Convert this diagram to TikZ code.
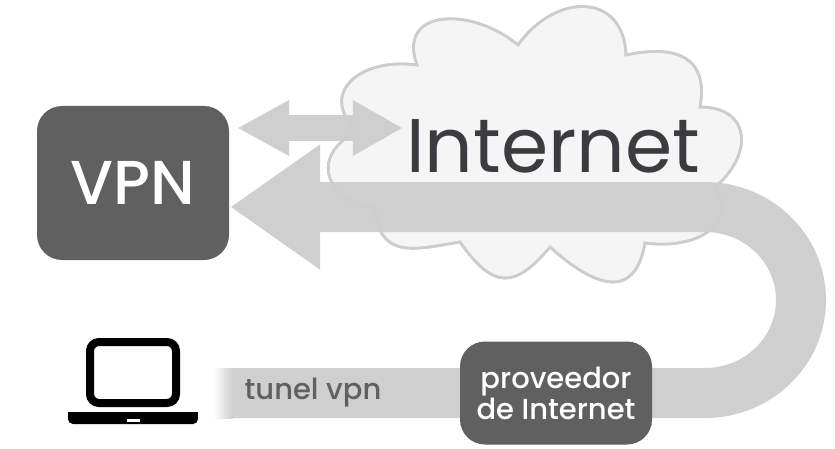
\documentclass[tikz,border=0pt]{standalone}
\usepackage{fontspec}
\setmainfont{Poppins}
\newfontfamily\medio{Poppins Medium}
\usetikzlibrary{arrows.meta, positioning, backgrounds}
\definecolor{cajagris}{HTML}{606060}
\definecolor{tunelgris}{HTML}{CFCFCF}
\definecolor{nubegris}{HTML}{F5F5F5}
\definecolor{bordegris}{HTML}{C4C4C4}
\definecolor{textogris}{HTML}{3A3C3F}
\newcommand{\contornonube}{(357,316)
    to[out=135,in=172,looseness=1.6] (417,383)
    to[out=110,in=140,looseness=1.5] (518,403)
    to[out=55,in=92,looseness=1.5] (626,393)
    to[out=12,in=80,looseness=1.45] (700,341)
    to[out=0,in=40,looseness=1.6] (715,261)
    to[out=-60,in=-8,looseness=1.35] (645,205)
    to[out=-100,in=-42,looseness=1.6] (550,201)
    to[out=-130,in=-55,looseness=1.6] (460,206)
    to[out=190,in=-85,looseness=1.4] (375,240)
    to[out=172,in=205,looseness=1.7] cycle}

\begin{document}
\begin{tikzpicture}[
    x=1pt, y=1pt,
    caja/.style={fill=cajagris, text=white, rounded corners=25pt, align=center, inner sep=0pt},
    tunel/.style={draw=tunelgris, line width=50pt, -{Triangle[length=90pt, width=119pt]}},
    doble/.style={draw=tunelgris, line width=26pt, {Triangle[length=52pt, width=52pt]}-{Triangle[length=50pt, width=52pt]}},
    nube/.style={draw=bordegris, line width=2.6pt}
]
\useasboundingbox (0,0) rectangle (835,448);

\node[caja, minimum width=192pt, minimum height=154pt, font=\medio\fontsize{62}{62}\selectfont] (vpn) at (133,265) {VPN};
\node[caja, minimum width=192pt, minimum height=103pt, font=\medio\fontsize{29}{31}\selectfont] (proveedor) at (556,55) {proveedor\\de Internet};
\node[anchor=base, inner sep=0pt, text=textogris, font=\fontsize{76}{76}\selectfont] (internet) at (553,276) {Internet};
\node[inner sep=0pt, text=cajagris, font=\medio\fontsize{29}{29}\selectfont] (tunelvpn) at (313,55) {tunel vpn};

% portatil
\node[draw=black, line width=8pt, rounded corners=9pt, minimum width=86pt, minimum height=61pt, inner sep=0pt] (pantalla) at (133,75.5) {};
\fill[black, rounded corners=5pt] (68,36) -- (198,36) -- (198,24) -- (68,24) -- cycle;
\fill[black] (68,30) rectangle (198,36);
\node[fill=white, minimum width=13pt, minimum height=3pt, inner sep=0pt, below=11.5pt of pantalla.south] (ranura) {};

\coordinate (tunelini) at (232,55);
\coordinate (curvaini) at (705,55);

\begin{scope}[on background layer]
\draw[nube, fill=nubegris] \contornonube;
\shade[left color=white, right color=tunelgris] (213,30) rectangle (233,80);
\draw[tunel] (tunelini) -- (proveedor.center) -- (curvaini) arc[start angle=-90, end angle=90, x radius=96, y radius=93] -- ([shift={(1,-24)}]vpn.east);
\draw[doble] ([shift={(8,55)}]vpn.east) -- ([shift={(-3,44)}]internet.base west);
\draw[nube, bordegris!85!white] \contornonube;
\end{scope}
\end{tikzpicture}
\end{document}
